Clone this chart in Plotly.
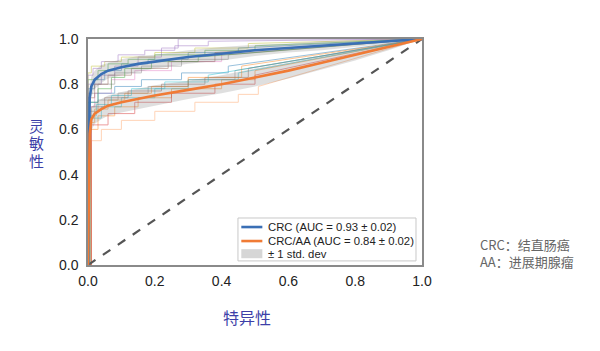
import plotly.graph_objects as go

# ---------------- data ----------------
mean_fpr = [0, 0.005, 0.01, 0.02, 0.04, 0.06, 0.1, 0.15, 0.2, 0.3, 0.4, 0.5, 0.6, 0.7, 0.8, 0.9, 1.0]
crc_mean = [0, 0.74, 0.79, 0.82, 0.845, 0.86, 0.875, 0.89, 0.9, 0.92, 0.935, 0.95, 0.96, 0.97, 0.98, 0.99, 1.0]
crc_std = [0, 0.05, 0.045, 0.04, 0.04, 0.035, 0.035, 0.035, 0.03, 0.03, 0.03, 0.025, 0.02, 0.02, 0.015, 0.01, 0]
aa_mean = [0, 0.58, 0.645, 0.67, 0.69, 0.705, 0.72, 0.735, 0.75, 0.775, 0.8, 0.83, 0.86, 0.895, 0.93, 0.965, 1.0]
aa_std = [0, 0.06, 0.05, 0.045, 0.045, 0.045, 0.045, 0.045, 0.045, 0.04, 0.04, 0.04, 0.035, 0.03, 0.025, 0.015, 0]

crc_folds = [
    ([0, 0, 0.02, 0.05, 0.1, 0.18, 0.3, 0.45, 1], [0, 0.78, 0.82, 0.86, 0.89, 0.91, 0.94, 0.96, 1]),
    ([0, 0, 0.03, 0.06, 0.12, 0.2, 0.35, 0.5, 1], [0, 0.82, 0.86, 0.89, 0.91, 0.93, 0.95, 0.97, 1]),
    ([0, 0, 0.04, 0.08, 0.15, 0.22, 0.27, 1], [0, 0.8, 0.84, 0.88, 0.92, 0.96, 1.0, 1]),
    ([0, 0, 0.02, 0.07, 0.14, 0.25, 0.4, 1], [0, 0.7, 0.76, 0.82, 0.86, 0.9, 0.93, 1]),
    ([0, 0, 0.01, 0.05, 0.1, 0.2, 0.32, 0.48, 1], [0, 0.85, 0.88, 0.9, 0.92, 0.94, 0.96, 0.98, 1]),
    ([0, 0, 0.03, 0.08, 0.16, 0.28, 0.42, 1], [0, 0.76, 0.8, 0.85, 0.88, 0.91, 0.93, 1]),
    ([0, 0, 0.02, 0.06, 0.13, 0.24, 0.38, 1], [0, 0.74, 0.8, 0.84, 0.87, 0.9, 0.94, 1]),
    ([0, 0, 0.015, 0.04, 0.09, 0.17, 0.26, 0.36, 1], [0, 0.84, 0.87, 0.9, 0.93, 0.95, 0.97, 0.99, 1]),
    ([0, 0, 0.03, 0.07, 0.11, 0.19, 0.33, 1], [0, 0.72, 0.78, 0.83, 0.87, 0.9, 0.92, 1]),
]
crc_fold_colors = ["#1f77b4", "#2ca02c", "#9467bd", "#e377c2", "#bcbd22",
                   "#7f7f7f", "#8c564b", "#9467bd", "#2ca02c"]

aa_folds = [
    ([0, 0.005, 0.03, 0.08, 0.15, 0.25, 0.4, 0.5, 1], [0, 0.6, 0.66, 0.7, 0.74, 0.78, 0.82, 0.86, 1]),
    ([0, 0.005, 0.04, 0.1, 0.2, 0.3, 0.45, 1], [0, 0.65, 0.7, 0.74, 0.78, 0.82, 0.85, 1]),
    ([0, 0.01, 0.05, 0.12, 0.22, 0.35, 0.48, 1], [0, 0.7, 0.74, 0.77, 0.8, 0.83, 0.87, 1]),
    ([0, 0.01, 0.04, 0.1, 0.2, 0.32, 0.45, 0.51, 1], [0, 0.55, 0.6, 0.64, 0.68, 0.72, 0.755, 0.79, 1]),
    ([0, 0.005, 0.03, 0.09, 0.18, 0.3, 0.44, 1], [0, 0.68, 0.73, 0.76, 0.79, 0.82, 0.86, 1]),
    ([0, 0.01, 0.06, 0.14, 0.25, 0.38, 0.5, 1], [0, 0.62, 0.67, 0.72, 0.76, 0.8, 0.84, 1]),
    ([0, 0.005, 0.03, 0.08, 0.16, 0.28, 0.42, 1], [0, 0.72, 0.76, 0.79, 0.82, 0.85, 0.88, 1]),
    ([0, 0.008, 0.02, 0.06, 0.11, 0.19, 0.3, 0.46, 1], [0, 0.63, 0.69, 0.73, 0.76, 0.79, 0.83, 0.88, 1]),
    ([0, 0.006, 0.025, 0.07, 0.13, 0.23, 0.36, 1], [0, 0.66, 0.71, 0.75, 0.78, 0.81, 0.84, 1]),
]
aa_fold_colors = ["#ff7f0e", "#17becf", "#8c564b", "#ffa060", "#7f7f7f",
                  "#d62728", "#1f77b4", "#ff7f0e", "#17becf"]

x_ticks = [0, 0.2, 0.4, 0.6, 0.8, 1.0]
tick_text = ["0.0", "0.2", "0.4", "0.6", "0.8", "1.0"]

labels = ["CRC (AUC = 0.93 ± 0.02)", "CRC/AA (AUC = 0.84 ± 0.02)", "± 1 std. dev"]
note_lines = ["CRC：结直肠癌", "AA：进展期腺瘤"]
y_title_chars = ["灵", "敏", "性"]
x_title = "特异性"

BLUE = "#3a6fb5"
ORANGE = "#f07b35"

# ---------------- figure ----------------
def stair(xs, ys):
    ox, oy = [xs[0]], [ys[0]]
    n = len(xs)
    for i in range(1, n):
        if i == n - 1:
            ox.append(xs[i]); oy.append(ys[i])
        else:
            ox += [xs[i], xs[i]]
            oy += [ys[i - 1], ys[i]]
    return ox, oy

fig = go.Figure()

for (fx, fy), c in list(zip(crc_folds, crc_fold_colors)) + list(zip(aa_folds, aa_fold_colors)):
    sx, sy = stair(fx, fy)
    fig.add_trace(go.Scatter(x=sx, y=sy, mode="lines", line=dict(color=c, width=1),
                             opacity=0.45, showlegend=False, hoverinfo="skip"))

# diagonal chance line
fig.add_trace(go.Scatter(x=[0, 1], y=[0, 1], mode="lines",
                         line=dict(color="#555555", width=2.2, dash="dash"),
                         showlegend=False, hoverinfo="skip"))

# std bands
for m, s in [(crc_mean, crc_std), (aa_mean, aa_std)]:
    upper = [min(a + b, 1.0) for a, b in zip(m, s)]
    lower = [max(a - b, 0.0) for a, b in zip(m, s)]
    fig.add_trace(go.Scatter(x=mean_fpr, y=lower, mode="lines", line=dict(width=0),
                             showlegend=False, hoverinfo="skip"))
    fig.add_trace(go.Scatter(x=mean_fpr, y=upper, mode="lines", line=dict(width=0),
                             fill="tonexty", fillcolor="rgba(128,128,128,0.25)",
                             showlegend=False, hoverinfo="skip"))

fig.add_trace(go.Scatter(x=mean_fpr, y=crc_mean, mode="lines",
                         line=dict(color=BLUE, width=2.6), name=labels[0], showlegend=False))
fig.add_trace(go.Scatter(x=mean_fpr, y=aa_mean, mode="lines",
                         line=dict(color=ORANGE, width=2.6), name=labels[1], showlegend=False))

axis_common = dict(range=[0, 1], showgrid=False, zeroline=False, showline=True, mirror=True,
                   linecolor="#8a8a8a", linewidth=1.5, ticks="", tickvals=x_ticks,
                   ticktext=tick_text, tickfont=dict(family="Liberation Sans, Arial", size=14, color="#222"))

fig.update_layout(
    width=600, height=351,
    margin=dict(l=88, r=178, t=39, b=86),
    paper_bgcolor="white", plot_bgcolor="white",
    xaxis=dict(**axis_common, ticklabelstandoff=2),
    yaxis=dict(**axis_common, ticklabelstandoff=5),
    showlegend=False,
)

# ----- legend box drawn manually (paper coords) -----
lx0, lx1, ly0, ly1 = 0.449, 0.982, 0.018, 0.208
fig.add_shape(type="rect", xref="paper", yref="paper", x0=lx0, x1=lx1, y0=ly0, y1=ly1,
              line=dict(color="#c8c8c8", width=1), fillcolor="white", layer="above")
row_y = [0.168, 0.106, 0.050]
sym_x0, sym_x1, txt_x = 0.459, 0.522, 0.532
fig.add_shape(type="line", xref="paper", yref="paper", x0=sym_x0, x1=sym_x1, y0=row_y[0], y1=row_y[0],
              line=dict(color=BLUE, width=2.6), layer="above")
fig.add_shape(type="line", xref="paper", yref="paper", x0=sym_x0, x1=sym_x1, y0=row_y[1], y1=row_y[1],
              line=dict(color=ORANGE, width=2.6), layer="above")
fig.add_shape(type="rect", xref="paper", yref="paper", x0=sym_x0, x1=sym_x1,
              y0=row_y[2] - 0.02, y1=row_y[2] + 0.02,
              line=dict(width=0), fillcolor="#d6d6d6", layer="above")
for ry, lab in zip(row_y, labels):
    fig.add_annotation(x=txt_x, y=ry, xref="paper", yref="paper", text=lab, showarrow=False,
                       xanchor="left", yanchor="middle",
                       font=dict(family="Liberation Sans, Arial", size=11.3, color="#222"))

# vertical y-title, one character per line
for ch, py in zip(y_title_chars, [0.619, 0.540, 0.461]):
    fig.add_annotation(x=-0.153, y=py, xref="paper", yref="paper", text=ch,
                       showarrow=False, font=dict(family="Noto Sans CJK SC", size=15, color="#3d3fa8"),
                       xanchor="center", yanchor="middle")
fig.add_annotation(x=0.475, y=-0.23, xref="paper", yref="paper", text=x_title,
                   showarrow=False, font=dict(family="Noto Sans CJK SC", size=16, color="#3d3fa8"),
                   xanchor="center", yanchor="middle")
for line, py in zip(note_lines, [0.089, 0.014]):
    fig.add_annotation(x=1.168, y=py, xref="paper", yref="paper", text=line,
                       showarrow=False, align="left",
                       font=dict(family="Noto Sans CJK SC", size=13, color="#666"),
                       xanchor="left", yanchor="middle")

fig.write_html("out.html")
